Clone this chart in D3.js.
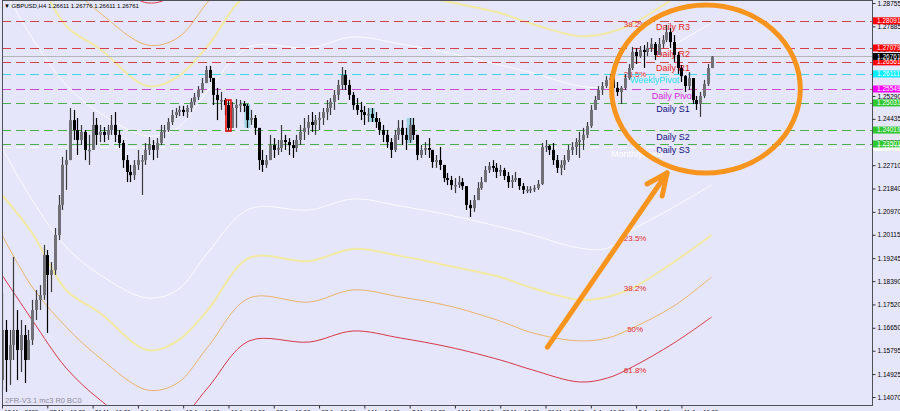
<!DOCTYPE html>
<html><head><meta charset="utf-8">
<script src="https://cdn.jsdelivr.net/npm/d3@7"></script>
<style>html,body{margin:0;padding:0;background:#e6e6fa;overflow:hidden}svg{display:block}</style>
</head><body><svg id="c" width="900" height="411"></svg>
<script>
// ---------- DATA ----------
const headerText = "▼ GBPUSD,H4  1.26611 1.26776 1.26611 1.26761";
const footerText = "2FR-V3.1 mc3 R0 BC0";
const candleStep = 2;          // bars per drawn candle
const firstOpen = 1.1470;
const highs = [
1.1795,1.1694,1.1657,1.1929,1.1731,1.1694,1.1675,1.1657,1.1769,1.1806,
1.1824,1.1974,1.1955,1.1910,1.2037,1.2160,1.2302,1.2328,1.2484,1.2477,
1.2447,1.2421,1.2402,1.2384,1.2469,1.2447,1.2421,1.2413,1.2421,1.2458,
1.2469,1.2402,1.2365,1.2309,1.2272,1.2290,1.2328,1.2309,1.2354,1.2376,
1.2365,1.2372,1.2421,1.2421,1.2447,1.2477,1.2484,1.2492,1.2492,1.2495,
1.2521,1.2540,1.2566,1.2596,1.2641,1.2641,1.2596,1.2559,1.2544,1.2521,
1.2514,1.2507,1.2518,1.2514,1.2510,1.2499,1.2477,1.2458,1.2410,1.2328,
1.2309,1.2384,1.2372,1.2365,1.2421,1.2384,1.2372,1.2365,1.2384,1.2421,
1.2447,1.2458,1.2469,1.2458,1.2469,1.2484,1.2514,1.2521,1.2551,1.2589,
1.2637,1.2626,1.2589,1.2544,1.2521,1.2507,1.2492,1.2484,1.2484,1.2469,
1.2447,1.2421,1.2402,1.2372,1.2402,1.2439,1.2439,1.2410,1.2447,1.2447,
1.2372,1.2346,1.2357,1.2372,1.2328,1.2309,1.2339,1.2272,1.2242,1.2231,
1.2223,1.2231,1.2223,1.2193,1.2141,1.2160,1.2208,1.2227,1.2268,1.2283,
1.2290,1.2279,1.2272,1.2261,1.2246,1.2234,1.2246,1.2223,1.2205,1.2193,
1.2193,1.2197,1.2216,1.2354,1.2365,1.2346,1.2354,1.2309,1.2290,1.2309,
1.2346,1.2357,1.2372,1.2395,1.2410,1.2432,1.2495,1.2529,1.2566,1.2581,
1.2603,1.2611,1.2596,1.2581,1.2566,1.2611,1.2648,1.2712,1.2708,1.2715,
1.2719,1.2730,1.2745,1.2730,1.2745,1.2756,1.2794,1.2782,1.2756,1.2693,
1.2644,1.2607,1.2618,1.2596,1.2529,1.2544,1.2589,1.2648,1.2678];
const lows = [
1.1433,1.1426,1.1452,1.1545,1.1470,1.1500,1.1459,1.1545,1.1601,1.1694,
1.1731,1.1769,1.1646,1.1798,1.1862,1.1992,1.2104,1.2179,1.2309,1.2365,
1.2309,1.2346,1.2290,1.2272,1.2328,1.2346,1.2357,1.2357,1.2365,1.2384,
1.2357,1.2335,1.2261,1.2208,1.2208,1.2216,1.2253,1.2160,1.2272,1.2309,
1.2290,1.2298,1.2346,1.2372,1.2395,1.2421,1.2447,1.2454,1.2454,1.2447,
1.2469,1.2495,1.2514,1.2540,1.2589,1.2581,1.2495,1.2439,1.2477,1.2458,
1.2398,1.2447,1.2410,1.2469,1.2469,1.2410,1.2421,1.2384,1.2253,1.2246,
1.2261,1.2298,1.2298,1.2309,1.2320,1.2328,1.2309,1.2298,1.2320,1.2346,
1.2365,1.2384,1.2395,1.2384,1.2402,1.2421,1.2439,1.2458,1.2477,1.2514,
1.2551,1.2551,1.2514,1.2477,1.2458,1.2439,1.2421,1.2432,1.2432,1.2410,
1.2384,1.2357,1.2335,1.2298,1.2320,1.2365,1.2346,1.2328,1.2354,1.2365,
1.2290,1.2298,1.2309,1.2298,1.2261,1.2261,1.2253,1.2208,1.2197,1.2179,
1.2167,1.2186,1.2179,1.2104,1.2078,1.2097,1.2141,1.2179,1.2216,1.2242,
1.2246,1.2223,1.2231,1.2216,1.2186,1.2186,1.2208,1.2179,1.2164,1.2167,
1.2167,1.2171,1.2179,1.2197,1.2320,1.2309,1.2272,1.2242,1.2234,1.2253,
1.2283,1.2309,1.2309,1.2298,1.2328,1.2372,1.2410,1.2477,1.2514,1.2533,
1.2559,1.2570,1.2544,1.2529,1.2499,1.2551,1.2589,1.2626,1.2648,1.2671,
1.2633,1.2678,1.2693,1.2663,1.2682,1.2708,1.2730,1.2708,1.2656,1.2611,
1.2581,1.2544,1.2551,1.2499,1.2477,1.2451,1.2521,1.2566,1.2633];
const closes = [
1.1657,1.1545,1.1601,1.1657,1.1582,1.1638,1.1545,1.1620,1.1731,1.1769,
1.1787,1.1936,1.1862,1.1880,1.2011,1.2123,1.2272,1.2290,1.2439,1.2402,
1.2365,1.2395,1.2328,1.2328,1.2421,1.2384,1.2395,1.2384,1.2402,1.2421,
1.2384,1.2354,1.2290,1.2246,1.2234,1.2272,1.2290,1.2290,1.2328,1.2346,
1.2328,1.2354,1.2395,1.2402,1.2432,1.2458,1.2469,1.2477,1.2469,1.2484,
1.2507,1.2525,1.2551,1.2577,1.2626,1.2596,1.2533,1.2514,1.2514,1.2495,
1.2410,1.2484,1.2495,1.2499,1.2492,1.2439,1.2447,1.2410,1.2290,1.2272,
1.2290,1.2346,1.2328,1.2335,1.2365,1.2357,1.2346,1.2335,1.2365,1.2395,
1.2410,1.2432,1.2421,1.2439,1.2447,1.2469,1.2484,1.2507,1.2533,1.2570,
1.2607,1.2570,1.2533,1.2495,1.2477,1.2469,1.2458,1.2462,1.2447,1.2432,
1.2402,1.2384,1.2357,1.2328,1.2384,1.2410,1.2384,1.2365,1.2421,1.2384,
1.2309,1.2328,1.2335,1.2328,1.2283,1.2290,1.2272,1.2223,1.2216,1.2197,
1.2197,1.2208,1.2193,1.2123,1.2111,1.2141,1.2186,1.2208,1.2253,1.2268,
1.2261,1.2246,1.2253,1.2231,1.2208,1.2216,1.2223,1.2193,1.2179,1.2179,
1.2182,1.2186,1.2201,1.2339,1.2343,1.2328,1.2290,1.2261,1.2272,1.2290,
1.2328,1.2339,1.2357,1.2365,1.2384,1.2417,1.2477,1.2514,1.2551,1.2566,
1.2589,1.2596,1.2559,1.2544,1.2559,1.2596,1.2633,1.2693,1.2678,1.2700,
1.2693,1.2708,1.2723,1.2682,1.2723,1.2738,1.2767,1.2730,1.2682,1.2633,
1.2603,1.2566,1.2596,1.2514,1.2499,1.2529,1.2574,1.2633,1.2676];

// envelope (fibo band) curves, read at these bar indices
const bandBars    = [0,16,34,52,77,93,109,131,163,186,211,237,264,281,306,321,334,356,376];
const upperRed    = [1.3461,1.3293,1.3114,1.2995,1.2876,1.2913,1.3040,1.3215,1.3211,1.3252,1.3226,1.3192,1.3144,1.3107,1.3062,1.3077,1.3118,1.3207,1.3304];
const upperOrange = [1.3297,1.3103,1.2954,1.2838,1.2719,1.2745,1.2879,1.3062,1.3047,1.3092,1.3066,1.3032,1.2976,1.2931,1.2902,1.2913,1.2950,1.3032,1.3140];
const upperYellow = [1.3144,1.3002,1.2790,1.2704,1.2566,1.2600,1.2715,1.2909,1.2898,1.2943,1.2917,1.2879,1.2838,1.2797,1.2752,1.2764,1.2797,1.2894,1.2995];
const upperWhite  = [1.2939,1.2745,1.2570,1.2465,1.2380,1.2410,1.2548,1.2712,1.2708,1.2749,1.2723,1.2689,1.2644,1.2615,1.2566,1.2566,1.2633,1.2719,1.2801];
const lowerWhite  = [1.2335,1.2141,1.1966,1.1862,1.1776,1.1806,1.1944,1.2108,1.2104,1.2145,1.2119,1.2085,1.2041,1.2011,1.1962,1.1962,1.2029,1.2115,1.2197];
const lowerYellow = [1.2160,1.2018,1.1806,1.1720,1.1582,1.1616,1.1731,1.1925,1.1914,1.1959,1.1933,1.1895,1.1854,1.1813,1.1769,1.1780,1.1813,1.1910,1.2011];
const lowerOrange = [1.2011,1.1817,1.1668,1.1552,1.1433,1.1459,1.1593,1.1776,1.1761,1.1806,1.1780,1.1746,1.1690,1.1646,1.1616,1.1627,1.1664,1.1746,1.1854];
const lowerRed    = [1.1862,1.1694,1.1515,1.1396,1.1277,1.1314,1.1441,1.1616,1.1612,1.1653,1.1627,1.1593,1.1545,1.1508,1.1463,1.1478,1.1519,1.1608,1.1705];

const fiboLabels = ["38.2%","23.5%","23.5%","38.2%","50%","61.8%"];
const fiboPrices = [1.2797,1.2611,1.2000,1.1813,1.1660,1.1508];
const fiboBar = 335.5;

// pivot levels
const pivotNames  = ["Daily R3","Daily R2","Daily R1","WeeklyPivot","Daily Pivot","Daily S1","Daily S2","Daily S3","MonthlyPivot"];
const pivotPrices = [1.28091,1.27079,1.26561,1.26111,1.25549,1.25031,1.24019,1.23501,1.23370];
const pivotKinds  = ["R","R","R","W","P","S","S","S","M"];
const pivotLabelBars = [355.6,355.6,355.6,345.8,355.6,355.6,355.6,355.6,336.3];
const bidPrice = 1.26761;

// axis ticks
const priceTicks = [1.28755,1.27885,1.27015,1.26145,1.25290,1.24435,1.23565,1.22710,1.21840,1.20970,1.20115,1.19245,1.18390,1.17520,1.16650,1.15795,1.14925,1.14070];
const timeBars   = [0,24,48,72,96,120,144,168,192,216,240,264,288,312,336,360];
const timeLabels = ["19 Mar 2020","25 Mar 16:00","31 Mar 16:00","6 Apr 16:00","10 Apr 16:00","16 Apr 16:00","22 Apr 16:00","28 Apr 16:00","4 May 16:00","8 May 16:00","14 May 16:00","20 May 16:00","26 May 16:00","1 Jun 16:00","5 Jun 16:00","11 Jun 16:00"];

// highlighted candles
const redMarkBar = 120, redMarkHi = 1.2514, redMarkLo = 1.2398;
const cyanMarkBars = [130,196,216];
const cyanMarkHi   = [1.2499,1.2484,1.2447];
const cyanMarkLo   = [1.2410,1.2432,1.2354];

// annotation (orange arrow + ellipse) in data units
const arrowBars   = [289,352.4];
const arrowPrices = [1.1593,1.2242];
const barbBars    = [341.8,349.8];
const barbPrices  = [1.2201,1.2156];
const ringBar = 373, ringPrice = 1.2555, ringHalfBars = 50, ringHalfPrice = 0.0313;

// ---------- STYLE ----------
const colors = {
  bg:"#e6e6fa", R:"#d2404a", W:"#3ad6e6", P:"#cc48cc", S:"#4cad4c", M:"#ffffff",
  Rt:"#e41c1c", Wt:"#22e0ee", Pt:"#d822d8", St:"#10107a", Mt:"#ffffff",
  Rb:"#ff0000", Wb:"#00f0ff", Pb:"#ff00ff", Sb:"#2ec82e", Mb:"#ffffff",
  orange:"#f7941d"
};
const FONT = "'Liberation Sans', Arial, sans-serif";

// ---------- CHART ----------
const W = 900, H = 411;
const plot = {l:2, r:872, t:0, b:405};
const x = d3.scaleLinear().domain([0,461]).range([plot.l, plot.r]);
const y = d3.scaleLinear().domain([1.14070,1.28755]).range([397,3]);

const svg = d3.select("#c");
svg.append("rect").attr("width",W).attr("height",H).attr("fill",colors.bg);
svg.append("defs").append("clipPath").attr("id","clip")
  .append("rect").attr("x",plot.l).attr("y",plot.t).attr("width",plot.r-plot.l).attr("height",plot.b-plot.t);
const g = svg.append("g").attr("clip-path","url(#clip)");

// bands
const bands = [
  {v:upperRed, c:"#d63848", w:1}, {v:upperOrange, c:"#e9b36e", w:1},
  {v:upperYellow, c:"#f2eaa2", w:2}, {v:upperWhite, c:"#fbfbff", w:1},
  {v:lowerWhite, c:"#fbfbff", w:1}, {v:lowerYellow, c:"#f2eaa2", w:2},
  {v:lowerOrange, c:"#e9b36e", w:1}, {v:lowerRed, c:"#d63848", w:1}
];
const bandLine = d3.line().x((d,i)=>x(bandBars[i])).y(d=>y(d)).curve(d3.curveCatmullRom.alpha(0.5));
g.selectAll("path.band").data(bands).join("path").attr("class","band")
  .attr("d",d=>bandLine(d.v)).attr("fill","none").attr("stroke",d=>d.c).attr("stroke-width",d=>d.w);

// fibo % labels
g.selectAll("text.fibo").data(fiboLabels).join("text").attr("class","fibo")
  .attr("x",x(fiboBar)).attr("y",(d,i)=>y(fiboPrices[i])+3)
  .attr("text-anchor","middle").attr("font-family",FONT).attr("font-size",8)
  .attr("fill","#e02a2a").text(d=>d);

// pivot lines
g.selectAll("line.piv").data(pivotPrices).join("line").attr("class","piv")
  .attr("x1",plot.l).attr("x2",plot.r)
  .attr("y1",d=>Math.round(y(d))+0.5).attr("y2",d=>Math.round(y(d))+0.5)
  .attr("stroke",(d,i)=>colors[pivotKinds[i]]).attr("stroke-width",1)
  .attr("stroke-dasharray","9,5");
g.append("line").attr("x1",plot.l).attr("x2",plot.r)
  .attr("y1",Math.round(y(bidPrice))+0.5).attr("y2",Math.round(y(bidPrice))+0.5)
  .attr("stroke","#b4b4bc").attr("stroke-width",1);

// pivot labels
g.selectAll("text.pivl").data(pivotNames).join("text").attr("class","pivl")
  .attr("x",(d,i)=>x(pivotLabelBars[i])).attr("y",(d,i)=>y(pivotPrices[i])+9.5)
  .attr("text-anchor","middle").attr("font-family",FONT).attr("font-size",9)
  .attr("fill",(d,i)=>colors[pivotKinds[i]+"t"]).text(d=>d);

// cyan marks
g.selectAll("rect.cy").data(cyanMarkBars).join("rect").attr("class","cy")
  .attr("x",d=>x(d)-3).attr("width",6)
  .attr("y",(d,i)=>y(cyanMarkHi[i])).attr("height",(d,i)=>y(cyanMarkLo[i])-y(cyanMarkHi[i]))
  .attr("fill","#9fd6e6");

// candles
const candles = closes.map((c,i)=>({bar:i*candleStep, o:i?closes[i-1]:firstOpen, h:highs[i], l:lows[i], c}));
const cg = g.append("g");
cg.selectAll("line.wick").data(candles).join("line").attr("class","wick")
  .attr("x1",d=>Math.round(x(d.bar))+0.5).attr("x2",d=>Math.round(x(d.bar))+0.5)
  .attr("y1",d=>y(Math.max(d.h,d.o,d.c))).attr("y2",d=>y(Math.min(d.l,d.o,d.c)))
  .attr("stroke",d=>d.c>=d.o?"#3a3a3e":"#000").attr("stroke-width",1.2);
cg.selectAll("rect.body").data(candles).join("rect").attr("class","body")
  .attr("x",d=>Math.round(x(d.bar))-1).attr("width",3)
  .attr("y",d=>y(Math.max(d.o,d.c))).attr("height",d=>Math.max(1.5,Math.abs(y(d.o)-y(d.c))))
  .attr("fill",d=>d.c>=d.o?"#707076":"#000");

// red mark
g.append("rect").attr("x",x(redMarkBar)-2.5).attr("width",5)
  .attr("y",y(redMarkHi)).attr("height",y(redMarkLo)-y(redMarkHi))
  .attr("fill","none").attr("stroke","#e81010").attr("stroke-width",1.6);

// frame
svg.append("rect").attr("x",plot.l+0.5).attr("y",0.5).attr("width",plot.r-plot.l).attr("height",plot.b)
  .attr("fill","none").attr("stroke","#505058").attr("stroke-width",1);

// right price axis
const ax = svg.append("g").attr("transform",`translate(${plot.r+0.5},0)`)
  .call(d3.axisRight(y).tickValues(priceTicks).tickFormat(d=>d.toFixed(5)).tickSize(3).tickPadding(2));
ax.select(".domain").remove();
ax.selectAll("text").attr("font-family",FONT).attr("font-size",6.5).attr("fill","#000");
ax.selectAll("line").attr("stroke","#333");

// price boxes
const boxes = pivotPrices.map((p,i)=>({p, fill:colors[pivotKinds[i]+"b"], txt: pivotKinds[i]==="M"?"#f4f4f4":"#fff"}))
  .sort((a,b)=>a.p-b.p);
boxes.push({p:bidPrice, fill:"#000", txt:"#fff"});
const bx = svg.append("g");
bx.selectAll("rect").data(boxes).join("rect")
  .attr("x",plot.r+1).attr("y",d=>y(d.p)-3.5).attr("width",30).attr("height",7).attr("fill",d=>d.fill);
bx.selectAll("text").data(boxes).join("text")
  .attr("x",plot.r+5).attr("y",d=>y(d.p)+2.4).attr("font-family",FONT).attr("font-size",6.5)
  .attr("fill",d=>d.txt).text(d=>d.p.toFixed(5));

// time axis
const tx = svg.append("g").attr("transform",`translate(0,${plot.b+0.5})`)
  .call(d3.axisBottom(x).tickValues(timeBars).tickFormat((d,i)=>timeLabels[i]).tickSize(3).tickPadding(1));
tx.select(".domain").remove();
tx.selectAll("line").attr("stroke","#333");
tx.selectAll("text").attr("text-anchor","start").attr("dx",2)
  .attr("font-family",FONT).attr("font-size",6).attr("fill","#000");

// header and footer texts
svg.append("text").attr("x",4).attr("y",8).attr("font-family",FONT).attr("font-size",6).attr("fill","#000").text(headerText);
svg.append("text").attr("x",5).attr("y",403).attr("font-family",FONT).attr("font-size",7.5).attr("fill","#8c8c98").text(footerText);

// annotation: orange ring + arrow
const ann = svg.append("g").attr("fill","none").attr("stroke",colors.orange)
  .attr("stroke-width",5).attr("stroke-linecap","round").attr("stroke-linejoin","round");
ann.append("ellipse").attr("cx",x(ringBar)).attr("cy",y(ringPrice))
  .attr("rx",x(ringBar+ringHalfBars)-x(ringBar)).attr("ry",y(ringPrice-ringHalfPrice)-y(ringPrice));
const arrLine = d3.line().x(d=>x(d[0])).y(d=>y(d[1]));
ann.append("path").attr("d",arrLine(arrowBars.map((b,i)=>[b,arrowPrices[i]])));
ann.append("path").attr("d",arrLine([[barbBars[0],barbPrices[0]],[arrowBars[1],arrowPrices[1]],[barbBars[1],barbPrices[1]]]));
</script></body></html>
